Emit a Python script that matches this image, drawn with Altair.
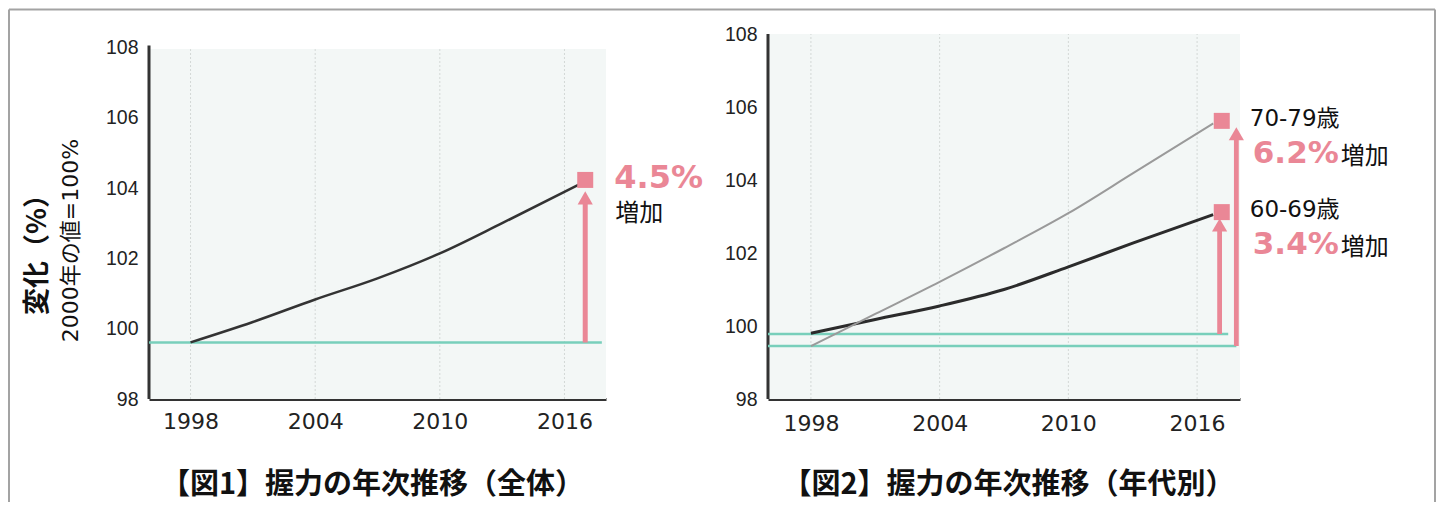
import altair as alt
import pandas as pd

# ---------------- data ----------------
# Fig.1 overall grip strength (2000 = 100%)
years_total = [1998, 2001, 2004, 2007, 2010, 2013, 2016.7]
grip_total = [99.61, 100.19, 100.83, 101.43, 102.14, 103.0, 104.1]

# Fig.2 by age group
years_age = [1998, 2001, 2004, 2007, 2010, 2013, 2016.75]
grip_60s = [99.8, 100.18, 100.55, 101.0, 101.62, 102.27, 103.05]
grip_70s = [99.45, 100.33, 101.21, 102.13, 103.09, 104.18, 105.55]

tick_years = [1998, 2004, 2010, 2016]
tick_values = [98, 100, 102, 104, 106, 108]

# annotations fig.1
ann1_year = [2017.0]
ann1_base = [99.61]
ann1_base_end = [2017.8]
ann1_tip = [103.92]
ann1_marker = [104.23]
ann1_pct = ["4.5%"]
ann1_word = ["増加"]

# annotations fig.2
ann2_group = ["70-79歳", "60-69歳"]
ann2_arrow_year = [2017.83, 2017.05]
ann2_marker_year = [2017.15, 2017.15]
ann2_base = [99.45, 99.78]
ann2_base_end = [2017.83, 2017.45]
ann2_tip = [105.46, 102.96]
ann2_marker = [105.62, 103.12]
ann2_pct = ["6.2%", "3.4%"]
ann2_word = ["増加", "増加"]

captions = ["【図1】握力の年次推移（全体）", "【図2】握力の年次推移（年代別）"]
ytitle_bold = ["変化（%）"]
ytitle_sub = "2000年の値=100%"

# ---------------- styles ----------------
PINK = "#ea8796"
TEAL = "#78cfbb"
BG = "#f3f7f6"
CJK = "Noto Sans CJK JP"
LATIN = "DejaVu Sans, Noto Sans CJK JP"

x_scale = alt.Scale(domain=[1996, 2018], nice=False, zero=False)


def make_axes(caption, cap_x, label_pad_x, ytitle):
    xaxis = alt.Axis(
        values=tick_years, format="d", grid=False, ticks=False,
        domainColor="#333", domainWidth=3,
        labelFont="DejaVu Sans", labelFontSize=22, labelColor="#222",
        labelPadding=label_pad_x,
        title=caption, titleFont=CJK, titleFontSize=29, titleFontWeight="bold",
        titleColor="#111", titleAlign="center", titleBaseline="middle",
        titleX=cap_x, titleY=85)
    ykw = dict(values=tick_values, domain=False, ticks=False, grid=False,
               labelFont="Liberation Sans", labelFontSize=19.5, labelColor="#222",
               labelPadding=11)
    if ytitle:
        ykw.update(title=ytitle, titleFont=LATIN, titleFontSize=22,
                   titleFontWeight="normal", titleColor="#111", titleAngle=270,
                   titleAlign="center", titleBaseline="middle",
                   titleX=-79, titleY=206)
    else:
        ykw.update(title="")
    return xaxis, alt.Axis(**ykw)


def base_layers(X, Y, bg_top, axis_top):
    bg_df = pd.DataFrame({"x0": [1996], "x1": [2018], "y0": [98], "y1": [bg_top]})
    bg = alt.Chart(bg_df).mark_rect(color=BG).encode(
        x=X("x0:Q"), x2="x1:Q", y=Y("y0:Q"), y2="y1:Q")
    grid_df = pd.DataFrame({"year": tick_years, "lo": [98] * 4, "hi": [bg_top] * 4})
    grid = alt.Chart(grid_df).mark_rule(color="#d3d8d6", strokeWidth=1, strokeDash=[2, 2]).encode(
        x=X("year:Q"), y=Y("lo:Q"), y2="hi:Q")
    yline_df = pd.DataFrame({"x": [1996], "lo": [98], "hi": [axis_top]})
    yline = alt.Chart(yline_df).mark_rule(color="#333", strokeWidth=3).encode(
        x=X("x:Q"), y=Y("lo:Q"), y2="hi:Q")
    return [bg, grid, yline]


# ---------------- left panel ----------------
ys1 = alt.Scale(domain=[98, 108.38], nice=False, zero=False)
xa1, ya1 = make_axes(captions[0], 223, 12, ytitle_sub)
X1 = lambda f: alt.X(f, scale=x_scale, axis=xa1)
Y1 = lambda f: alt.Y(f, scale=ys1, axis=ya1)
layers1 = base_layers(X1, Y1, 107.95, 108.05)

total_df = pd.DataFrame({"year": years_total, "value": grip_total})
ann1 = pd.DataFrame({"year": ann1_year, "start": [1996], "base": ann1_base,
                     "base_end": ann1_base_end, "tip": ann1_tip, "marker": ann1_marker,
                     "pct": ann1_pct, "word": ann1_word})

teal1 = alt.Chart(ann1).mark_rule(color=TEAL, strokeWidth=2.5).encode(
    x=X1("start:Q"), x2="base_end:Q", y=Y1("base:Q"))
line1 = alt.Chart(total_df).mark_line(color="#333", strokeWidth=2.5, interpolate="monotone").encode(
    x=X1("year:Q"), y=Y1("value:Q"))
shaft1 = alt.Chart(ann1).mark_rule(color=PINK, strokeWidth=5, y2Offset=8).encode(
    x=X1("year:Q"), y=Y1("base:Q"), y2="tip:Q")
head1 = alt.Chart(ann1).mark_point(shape="triangle-up", filled=True, size=230, color=PINK,
                                   opacity=1, yOffset=7).encode(x=X1("year:Q"), y=Y1("tip:Q"))
sq1 = alt.Chart(ann1).mark_square(size=256, color=PINK, opacity=1).encode(
    x=X1("year:Q"), y=Y1("marker:Q"))
pct1 = alt.Chart(ann1).mark_text(align="left", baseline="middle", dx=29, dy=-2, font="DejaVu Sans",
                                 fontSize=32, fontWeight="bold", color=PINK).encode(
    x=X1("year:Q"), y=Y1("marker:Q"), text="pct:N")
word1 = alt.Chart(ann1).mark_text(align="left", baseline="middle", dx=30, dy=34, font=CJK,
                                  fontSize=24, color="#111").encode(
    x=X1("year:Q"), y=Y1("marker:Q"), text="word:N")
ytb = alt.Chart(pd.DataFrame({"t": ytitle_bold})).mark_text(
    angle=270, align="center", baseline="middle", font=CJK, fontSize=27, fontWeight="bold",
    color="#111").encode(text="t:N", x=alt.value(-111), y=alt.value(214))

# outer frame (decoration)
dummy = pd.DataFrame({"d": [0]})
frame_top = alt.Chart(dummy).mark_rule(color="#a3a3a3", strokeWidth=2).encode(
    x=alt.value(-140), x2=alt.value(1286), y=alt.value(-24.5))
frame_left = alt.Chart(dummy).mark_rule(color="#a3a3a3", strokeWidth=2).encode(
    x=alt.value(-140), y=alt.value(-24.5), y2=alt.value(468))
frame_right = alt.Chart(dummy).mark_rule(color="#a3a3a3", strokeWidth=2).encode(
    x=alt.value(1286), y=alt.value(-24.5), y2=alt.value(468))

left = alt.layer(*layers1, teal1, line1, shaft1, head1, sq1, pct1, word1, ytb,
                 frame_top, frame_left, frame_right).properties(width=457, height=365)

# ---------------- right panel ----------------
ys2 = alt.Scale(domain=[98, 108], nice=False, zero=False)
xa2, ya2 = make_axes(captions[1], 240, 14, None)
X2 = lambda f: alt.X(f, scale=x_scale, axis=xa2)
Y2 = lambda f: alt.Y(f, scale=ys2, axis=ya2)
layers2 = base_layers(X2, Y2, 108, 108)

age_df = pd.DataFrame({
    "year": years_age + years_age,
    "value": grip_60s + grip_70s,
    "group": ["60-69歳"] * len(years_age) + ["70-79歳"] * len(years_age),
})
ann2 = pd.DataFrame({"group": ann2_group, "arrow_year": ann2_arrow_year,
                     "marker_year": ann2_marker_year, "start": [1996, 1996],
                     "base": ann2_base, "base_end": ann2_base_end, "tip": ann2_tip,
                     "marker": ann2_marker, "pct": ann2_pct, "word": ann2_word})

teal2 = alt.Chart(ann2).mark_rule(color=TEAL, strokeWidth=2.5).encode(
    x=X2("start:Q"), x2="base_end:Q", y=Y2("base:Q"))
line2 = alt.Chart(age_df).mark_line(interpolate="monotone").encode(
    x=X2("year:Q"), y=Y2("value:Q"),
    color=alt.Color("group:N", scale=alt.Scale(domain=["60-69歳", "70-79歳"],
                                               range=["#2b2b2b", "#9a9a9a"]), legend=None),
    strokeWidth=alt.StrokeWidth("group:N", scale=alt.Scale(domain=["60-69歳", "70-79歳"],
                                                          range=[3, 2]), legend=None),
    detail="group:N")
shaft2 = alt.Chart(ann2).mark_rule(color=PINK, strokeWidth=4.8, y2Offset=8).encode(
    x=X2("arrow_year:Q"), y=Y2("base:Q"), y2="tip:Q")
head2 = alt.Chart(ann2).mark_point(shape="triangle-up", filled=True, size=230, color=PINK,
                                   opacity=1, yOffset=7).encode(x=X2("arrow_year:Q"), y=Y2("tip:Q"))
sq2 = alt.Chart(ann2).mark_square(size=256, color=PINK, opacity=1).encode(
    x=X2("marker_year:Q"), y=Y2("marker:Q"))
grp2 = alt.Chart(ann2).mark_text(align="left", baseline="middle", dx=28, dy=-2, font=LATIN,
                                 fontSize=23, color="#111").encode(
    x=X2("marker_year:Q"), y=Y2("marker:Q"), text="group:N")
pct2 = alt.Chart(ann2).mark_text(align="right", baseline="middle", dx=117, dy=33, font="DejaVu Sans",
                                 fontSize=31, fontWeight="bold", color=PINK).encode(
    x=X2("marker_year:Q"), y=Y2("marker:Q"), text="pct:N")
word2 = alt.Chart(ann2).mark_text(align="left", baseline="middle", dx=119, dy=36, font=CJK,
                                  fontSize=24, color="#111").encode(
    x=X2("marker_year:Q"), y=Y2("marker:Q"), text="word:N")

right = alt.layer(*layers2, teal2, line2, shaft2, head2, sq2, grp2, pct2, word2).properties(
    width=472, height=365)

chart = alt.hconcat(left, right, spacing=162, bounds="flush").properties(
    padding=0
).configure_view(strokeWidth=0)

chart.save("out.html", embed_options={"renderer": "svg", "actions": False})
